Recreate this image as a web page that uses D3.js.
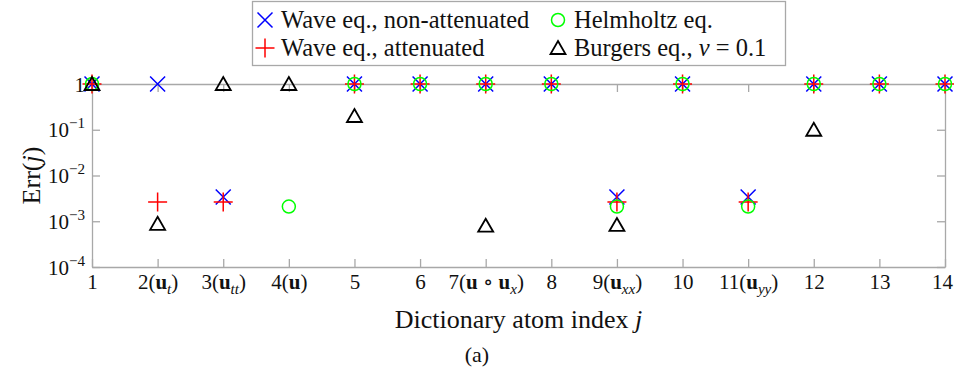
<!DOCTYPE html>
<html>
<head>
<meta charset="utf-8">
<script src="https://cdn.jsdelivr.net/npm/d3@7"></script>
<style>
  html, body { margin: 0; padding: 0; background: #fff; }
  svg { display: block; font-family: "Liberation Serif", "DejaVu Serif", serif; }
</style>
</head>
<body>
<svg id="chart" width="954" height="372"></svg>
<script>
// Dictionary atom indices and their tick labels (TeX-like markup)
const atomIndex = [1, 2, 3, 4, 5, 6, 7, 8, 9, 10, 11, 12, 13, 14];
const atomLabels = [
  "1", "2($\\mathbf{u}_t$)", "3($\\mathbf{u}_{tt}$)", "4($\\mathbf{u}$)", "5", "6",
  "7($\\mathbf{u}\\circ\\mathbf{u}_x$)", "8", "9($\\mathbf{u}_{xx}$)", "10",
  "11($\\mathbf{u}_{yy}$)", "12", "13", "14"
];

// Err(j) per equation (null = atom not evaluated)
const waveNonAttenuated = [1, 1, 0.0034, null, 1, 1, 1, 1, 0.0034, 1, 0.0034, 1, 1, 1];
const waveAttenuated    = [1, 0.00265, 0.00265, null, 1, 1, 1, 1, 0.00265, 1, 0.00265, 1, 1, 1];
const helmholtz         = [1, null, null, 0.0021, 1, 1, 1, 1, 0.0021, 1, 0.0021, 1, 1, 1];
const burgers           = [1, 0.00088, 1, 1, 0.2, null, 0.0008, null, 0.00083, null, null, 0.1, null, null];

// Y axis ticks
const yTickValues = [1e-4, 1e-3, 1e-2, 1e-1, 1];
const yTickLabels = ["$10^{-4}$", "$10^{-3}$", "$10^{-2}$", "$10^{-1}$", "1"];

// Series definitions
const seriesNames = ["Wave eq., non-attenuated", "Wave eq., attenuated", "Helmholtz eq.", "Burgers eq., $\\nu = 0.1$"];
const seriesValues = [waveNonAttenuated, waveAttenuated, helmholtz, burgers];
const seriesMarkers = ["x", "plus", "circle", "triangle"];
const seriesColors = ["#0000ff", "#ff0000", "#00ff00", "#000000"];

// ---------- minimal TeX-ish text renderer ----------
function parseTex(str) {
  const segs = [];
  let math = false, i = 0;
  const push = (t, st) => {
    const last = segs[segs.length - 1];
    if (last && last.b === !!st.b && last.i === !!st.i && last.s === (st.s || null)) last.t += t;
    else segs.push({ t, b: !!st.b, i: !!st.i, s: st.s || null });
  };
  function readGroup() {
    if (str[i] === "{") {
      const end = str.indexOf("}", i);
      const g = str.slice(i + 1, end);
      i = end + 1;
      return g;
    }
    return str[i++];
  }
  function mathChar(c, shift) {
    if (/[a-zA-Z]/.test(c)) push(c, { i: true, s: shift });
    else if (c === "-") push("\u2212", { s: shift });
    else if (c === "=") push(" = ", { s: shift });
    else if (c === " ") {}
    else push(c, { s: shift });
  }
  while (i < str.length) {
    const c = str[i];
    if (c === "$") { math = !math; i++; continue; }
    if (!math) { push(c, {}); i++; continue; }
    if (str.startsWith("\\mathbf", i)) {
      i += 7;
      push(readGroup(), { b: true });
    } else if (str.startsWith("\\circ", i)) {
      i += 5; push(" \u2218 ", {});
    } else if (str.startsWith("\\nu", i)) {
      i += 3; push("\u03bd", { i: true });
    } else if (c === "_" || c === "^") {
      i++;
      const g = readGroup();
      for (const ch of g) mathChar(ch, c === "_" ? "sub" : "sup");
    } else { mathChar(c, null); i++; }
  }
  return segs;
}

function renderTex(textSel, str, size) {
  textSel.text(null);
  const segs = parseTex(str);
  let cur = 0;
  segs.forEach(s => {
    const off = s.s === "sub" ? size * 0.22 : s.s === "sup" ? -size * 0.42 : 0;
    const ts = textSel.append("tspan").text(s.t).attr("dy", off - cur);
    cur = off;
    if (s.s) ts.attr("font-size", size * 0.72);
    if (s.b) ts.attr("font-weight", "bold");
    if (s.i) ts.attr("font-style", "italic");
  });
}

// ---------- marker shapes ----------
function drawMarker(g, type, color) {
  const sw = 1.5;
  if (type === "x") {
    const h = 7.5;
    g.append("path").attr("d", `M${-h},${-h}L${h},${h}M${-h},${h}L${h},${-h}`)
      .attr("stroke", color).attr("stroke-width", sw).attr("fill", "none");
  } else if (type === "plus") {
    const h = 9.5;
    g.append("path").attr("d", `M${-h},0L${h},0M0,${-h}L0,${h}`)
      .attr("stroke", color).attr("stroke-width", sw).attr("fill", "none");
  } else if (type === "circle") {
    g.append("circle").attr("r", 6.5)
      .attr("stroke", color).attr("stroke-width", sw).attr("fill", "none");
  } else if (type === "triangle") {
    const w = 7.5, ht = 7;
    g.append("path").attr("d", `M0,${-ht}L${w},${ht - 1}L${-w},${ht - 1}Z`)
      .attr("stroke", color).attr("stroke-width", sw + 0.3).attr("fill", "none")
      .attr("stroke-linejoin", "miter");
  }
}

// ---------- layout ----------
const W = 954;
const svg = d3.select("#chart");
const plot = { left: 92, right: 945, top: 84, bottom: 267 };
const tickFont = 21, labelFont = 26, legendFont = 24.5;
const axisColor = "#a8a8a8", textColor = "#111";

const x = d3.scaleLinear().domain([1, 14]).range([plot.left, plot.right]);
const y = d3.scaleLog().domain([1e-4, 1]).range([plot.bottom, plot.top]);

// Axes (box with inward ticks)
const bottomAxis = svg.append("g").attr("transform", `translate(0,${plot.bottom})`)
  .call(d3.axisBottom(x).tickValues(atomIndex).tickSizeInner(-8).tickSizeOuter(0).tickPadding(0));
const topAxis = svg.append("g").attr("transform", `translate(0,${plot.top})`)
  .call(d3.axisTop(x).tickValues(atomIndex).tickSizeInner(-8).tickSizeOuter(0).tickFormat(""));
const leftAxis = svg.append("g").attr("transform", `translate(${plot.left},0)`)
  .call(d3.axisLeft(y).tickValues(yTickValues).tickSizeInner(-8).tickSizeOuter(0).tickPadding(7));
const rightAxis = svg.append("g").attr("transform", `translate(${plot.right},0)`)
  .call(d3.axisRight(y).tickValues(yTickValues).tickSizeInner(-8).tickSizeOuter(0).tickFormat(""));

[bottomAxis, topAxis, leftAxis, rightAxis].forEach(a => {
  a.selectAll("path.domain").attr("stroke", axisColor).attr("stroke-width", 1.3);
  a.selectAll(".tick line").attr("stroke", axisColor).attr("stroke-width", 1.3);
  a.attr("font-family", null).attr("font-size", null);
});

bottomAxis.selectAll(".tick text")
  .attr("y", 22).attr("dy", 0).attr("fill", textColor).attr("font-size", tickFont)
  .each(function (d, i) {
    const t = d3.select(this);
    renderTex(t, atomLabels[i], tickFont);
    // keep edge labels inside the canvas
    const bb = this.getBBox();
    const right = x(d) + bb.x + bb.width;
    if (right > W - 1) t.attr("x", (W - 1) - right);
  });

leftAxis.selectAll(".tick text")
  .attr("dy", 0).attr("y", 7).attr("fill", textColor).attr("font-size", tickFont)
  .each(function (d, i) { renderTex(d3.select(this), yTickLabels[i], tickFont); });

// Axis labels
const xLabel = svg.append("text")
  .attr("x", (plot.left + plot.right) / 2).attr("y", 328)
  .attr("text-anchor", "middle").attr("font-size", labelFont).attr("fill", textColor);
renderTex(xLabel, "Dictionary atom index $j$", labelFont);

const yLabel = svg.append("text")
  .attr("transform", `translate(40,${(plot.top + plot.bottom) / 2}) rotate(-90)`)
  .attr("text-anchor", "middle").attr("font-size", labelFont).attr("fill", textColor);
renderTex(yLabel, "Err($j$)", labelFont);

// Caption
svg.append("text").attr("x", 477).attr("y", 362).attr("text-anchor", "middle")
  .attr("font-size", 22).attr("fill", textColor).text("(a)");

// Data markers
seriesValues.forEach((vals, s) => {
  const pts = atomIndex.map((j, k) => ({ j, v: vals[k] })).filter(p => p.v != null);
  const g = svg.append("g");
  g.selectAll("g").data(pts).join("g")
    .attr("transform", p => `translate(${x(p.j)},${y(p.v)})`)
    .each(function () { drawMarker(d3.select(this), seriesMarkers[s], seriesColors[s]); });
});

// Legend (two columns, column-major order)
const legend = svg.append("g");
legend.append("rect").attr("x", 252.5).attr("y", 1.5).attr("width", 533).attr("height", 64)
  .attr("fill", "#fff").attr("stroke", axisColor).attr("stroke-width", 1.3);
const legendCols = [265, 558];
const legendRows = [20, 48];
seriesNames.forEach((name, s) => {
  const col = Math.floor(s / 2), row = s % 2;
  const g = legend.append("g").attr("transform", `translate(${legendCols[col]},${legendRows[row]})`);
  drawMarker(g, seriesMarkers[s], seriesColors[s]);
  const t = g.append("text").attr("x", 16).attr("y", 8)
    .attr("font-size", legendFont).attr("fill", textColor);
  renderTex(t, name, legendFont);
});
</script>
</body>
</html>
